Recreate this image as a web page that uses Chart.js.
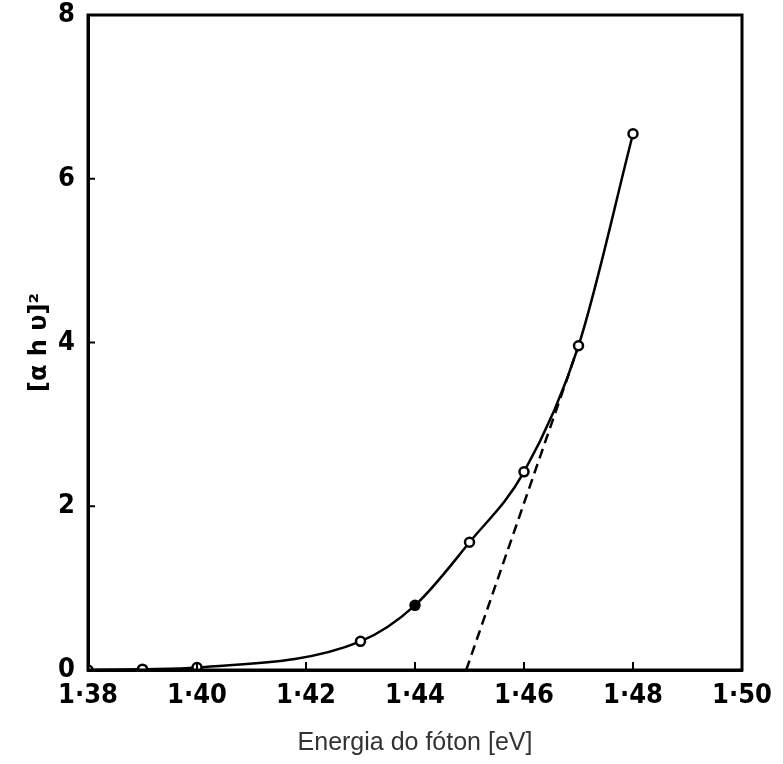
<!DOCTYPE html>
<html>
<head>
<meta charset="utf-8">
<script src="https://cdn.jsdelivr.net/npm/chart.js@4.4.0/dist/chart.umd.min.js"></script>
<style>
  html, body { margin: 0; padding: 0; background: #fff; }
  #wrap { width: 783px; height: 764px; }
</style>
</head>
<body>
<div id="wrap"><canvas id="chart" width="783" height="764"></canvas></div>
<script>
// measured points
var energy = [1.38, 1.39, 1.40, 1.43, 1.44, 1.45, 1.46, 1.47, 1.48];
var alphaHv2 = [0.0, 0.01, 0.03, 0.35, 0.79, 1.56, 2.42, 3.96, 6.55];

// extrapolated straight line (dashed)
var fitEnergy = [1.4494, 1.47];
var fitValue = [0.0, 3.96];

// axis ticks
var xTickValues = [1.38, 1.40, 1.42, 1.44, 1.46, 1.48, 1.50];
var xTickLabels = ["1·38", "1·40", "1·42", "1·44", "1·46", "1·48", "1·50"];
var yTickValues = [0, 2, 4, 6, 8];

var tickFont = { family: "'Liberation Sans Narrow', 'DejaVu Sans Condensed', sans-serif", size: 27, weight: "bold" };

// inward ticks + closed frame
var framePlugin = {
  id: "frame",
  afterDraw: function (c) {
    var ctx = c.ctx;
    var a = c.chartArea;
    var xs = c.scales.x;
    var ys = c.scales.y;
    ctx.save();
    ctx.strokeStyle = "#000";
    ctx.lineWidth = 2;
    xTickValues.forEach(function (v) {
      var px = xs.getPixelForValue(v);
      ctx.beginPath();
      ctx.moveTo(px, a.bottom);
      ctx.lineTo(px, a.bottom - 8);
      ctx.stroke();
    });
    yTickValues.forEach(function (v) {
      var py = ys.getPixelForValue(v);
      ctx.beginPath();
      ctx.moveTo(a.left, py);
      ctx.lineTo(a.left + 7, py);
      ctx.stroke();
    });
    ctx.lineWidth = 3;
    ctx.strokeRect(a.left, a.top, a.right - a.left, a.bottom - a.top);
    ctx.restore();
  }
};

new Chart(document.getElementById("chart"), {
  type: "scatter",
  data: {
    datasets: [
      {
        label: "curve",
        data: energy.map(function (x, i) { return { x: x, y: alphaHv2[i] }; }),
        showLine: true,
        borderColor: "#000",
        borderWidth: 2.5,
        cubicInterpolationMode: "monotone",
        pointRadius: 4.5,
        pointBorderWidth: 2.5,
        pointBorderColor: "#000",
        pointBackgroundColor: ["#fff", "#fff", "#fff", "#fff", "#000", "#fff", "#fff", "#fff", "#fff"]
      },
      {
        label: "fit",
        data: fitEnergy.map(function (x, i) { return { x: x, y: fitValue[i] }; }),
        showLine: true,
        borderColor: "#000",
        borderWidth: 2.5,
        borderDash: [10, 6],
        pointRadius: 0
      }
    ]
  },
  options: {
    responsive: false,
    animation: false,
    layout: { padding: { left: 0, top: 15, right: 41, bottom: 0 } },
    plugins: {
      legend: { display: false },
      tooltip: { enabled: false }
    },
    scales: {
      x: {
        type: "linear",
        min: 1.38,
        max: 1.50,
        afterBuildTicks: function (s) {
          s.ticks = xTickValues.map(function (v) { return { value: v }; });
        },
        afterFit: function (s) {
          s.height = 94;
          s.paddingLeft = 0;
          s.paddingRight = 0;
        },
        grid: { display: false },
        border: { display: true, color: "#000", width: 3 },
        ticks: {
          color: "#000",
          font: tickFont,
          padding: 2,
          maxRotation: 0,
          callback: function (v) {
            var i = xTickValues.indexOf(Math.round(v * 100) / 100);
            return i >= 0 ? xTickLabels[i] : "";
          }
        },
        title: {
          display: true,
          text: "Energia do fóton [eV]",
          color: "#333",
          font: { family: "Liberation Sans", size: 25 },
          padding: { top: 0, bottom: 6 }
        }
      },
      y: {
        type: "linear",
        min: 0,
        max: 8,
        afterBuildTicks: function (s) {
          s.ticks = yTickValues.map(function (v) { return { value: v }; });
        },
        afterFit: function (s) {
          s.width = 88;
          s.paddingTop = 0;
          s.paddingBottom = 0;
        },
        grid: { display: false },
        border: { display: true, color: "#000", width: 3 },
        ticks: {
          color: "#000",
          font: tickFont,
          padding: 5
        },
        title: {
          display: true,
          text: "[α h υ]²",
          color: "#000",
          font: { family: "DejaVu Sans", size: 24, weight: "bold" },
          padding: { top: 25, bottom: 0 }
        }
      }
    }
  },
  plugins: [framePlugin]
});
</script>
</body>
</html>
